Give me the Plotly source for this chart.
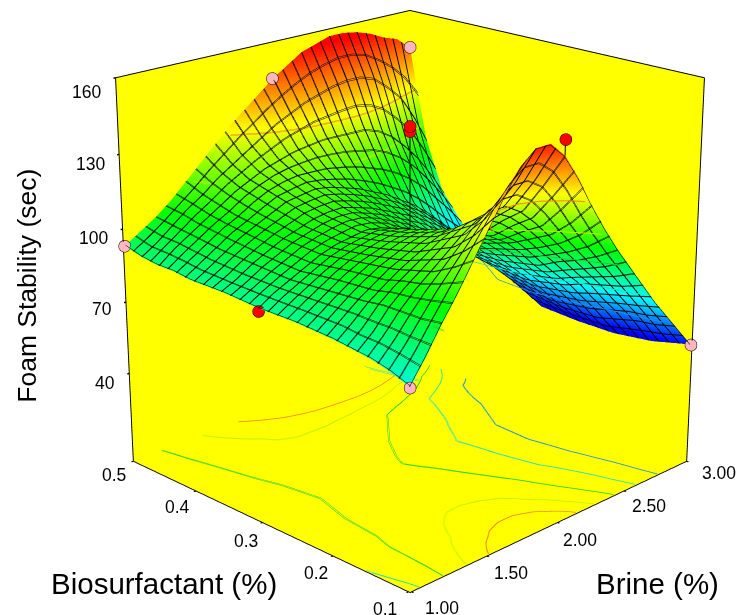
import plotly.graph_objects as go

brine = [1.0, 1.1, 1.2, 1.3, 1.4, 1.5, 1.6, 1.7, 1.8, 1.9, 2.0, 2.1, 2.2, 2.3, 2.4, 2.5, 2.6, 2.7, 2.8, 2.9, 3.0]
biosurfactant = [0.10, 0.125, 0.15, 0.175, 0.20, 0.25, 0.30, 0.35, 0.40, 0.425, 0.45, 0.475, 0.50]
foam = [
    [80, 89, 99, 108, 118, 128, 138, 147, 152, 152, 146, 136, 124, 113, 103, 94, 85, 76, 68, 60, 52],
    [83, 90, 98, 106, 113, 120, 127, 133, 137, 137, 133, 125, 115, 106, 98, 90, 82, 74, 66, 58, 50],
    [85, 91, 98, 104, 109, 114, 119, 123, 125, 125, 121, 115, 108, 101, 94, 87, 80, 72, 65, 57, 48],
    [86, 91, 98, 103, 107, 111, 115, 118, 119, 118, 115, 110, 104, 97, 91, 84, 78, 70, 63, 55, 47],
    [87, 92, 97, 101, 105, 108, 111, 113, 113, 111, 108, 104, 100, 94, 87, 81, 75, 68, 61, 53, 46],
    [88, 92, 96, 100, 103, 105, 107, 108, 108, 106, 103, 99, 95, 90, 84, 78, 72, 66, 59, 53, 46],
    [88, 92, 95, 98, 101, 103, 104, 105, 104, 102, 98, 95, 91, 87, 83, 78, 73, 67, 61, 54, 47],
    [89, 92, 96, 99, 102, 104, 106, 107, 107, 105, 103, 100, 97, 94, 90, 86, 81, 76, 70, 63, 55],
    [89, 93, 97, 101, 104, 107, 110, 111, 112, 111, 109, 107, 104, 101, 97, 93, 88, 82, 76, 71, 66],
    [90, 94, 98, 102, 105, 109, 112, 114, 115, 115, 115, 114, 113, 111, 109, 106, 102, 97, 90, 83, 75],
    [90, 95, 99, 103, 107, 111, 114, 117, 119, 121, 122, 123, 123, 123, 123, 121, 117, 111, 104, 95, 85],
    [91, 95, 100, 105, 109, 114, 118, 122, 126, 130, 133, 136, 138, 140, 141, 141, 139, 134, 128, 118, 106],
    [93, 97, 101, 106, 112, 118, 124, 130, 135, 140, 145, 149, 153, 155, 157, 157, 156, 154, 151, 149, 144],
]
pink_b = [1, 2, 3, 1, 3]
pink_s = [0.5, 0.5, 0.5, 0.1, 0.1]
pink_z = [93, 145, 144, 80, 52]
red_b = [1, 2, 2, 2]
red_s = [0.3, 0.3, 0.3, 0.1]
red_z = [87, 141, 139, 152]
red_surface = [87, 98, 98, 146]
contour_levels = [70, 85, 100, 115, 130]
contour_colors = ["#2090e0", "#20e0c0", "#20d020", "#c0f000", "#f08020"]
brine_ticks = [1, 1.5, 2, 2.5, 3]
bio_ticks = [0.1, 0.2, 0.3, 0.4, 0.5]
foam_ticks = [40, 70, 100, 130, 160]
brine_nudge = [(32, 17), (26, 18), (24, 18), (26, 16), (34, 12)]
bio_nudge = [(-25, 18), (-19, 18), (-18, 19), (-20, 17), (-21, 14)]
foam_nudge = [(-14, 10), (-14, 7), (-14, 9), (-14, 10), (-14, 15)]
FLOOR = 2
K = 3
BRINE_RANGE = [0.99, 3]
BIO_RANGE = [0.098, 0.5]
SINK = 4

rainbow = [[0, "#0000ff"], [0.25, "#00ffff"], [0.5, "#00ff00"], [0.75, "#ffff00"], [1, "#ff0000"]]
flat = dict(ambient=1, diffuse=0, specular=0, fresnel=0, roughness=1)

def toward_viewer(bs, ss, zs, amount=0.02):
    out = ([], [], [])
    for b, s, z in zip(bs, ss, zs):
        step = min(amount, (b - BRINE_RANGE[0]) / 2, (s - BIO_RANGE[0]) / 0.4)
        out[0].append(b - 2 * step)
        out[1].append(s - 0.4 * step)
        out[2].append(z + 60 * step)
    return out

fig = go.Figure()
fig.add_trace(go.Surface(
    x=brine, y=biosurfactant, z=foam, colorscale=rainbow, cmin=50, cmax=155, showscale=False,
    lighting=flat, hoverinfo="skip",
    contours=dict(
        x=dict(show=True, start=1, end=3, size=2 / 30, color="black", width=2),
        y=dict(show=True, start=0.1, end=0.5, size=0.4 / 30, color="black", width=2),
    ),
))
fig.add_trace(go.Surface(
    x=brine, y=biosurfactant, z=foam, showscale=False, hidesurface=True, hoverinfo="skip",
    contours=dict(
        x=dict(show=True, start=1.004, end=3, size=2 / 30, color="black", width=2),
        y=dict(show=True, start=0.1008, end=0.5, size=0.4 / 30, color="black", width=2),
    ),
))
sunk = [[v - SINK for v in row] for row in foam]
for level, color in zip(contour_levels, contour_colors):
    fig.add_trace(go.Surface(
        x=brine, y=biosurfactant, z=sunk, showscale=False, hidesurface=True, hoverinfo="skip",
        contours=dict(z=dict(show=True, start=level - SINK, end=level - SINK + 0.35, size=0.3, color=color, width=3,
                             project=dict(z=True))),
    ))
dx, dy, dz = [], [], []
for b, s, z, z0 in zip(red_b, red_s, red_z, red_surface):
    dx += [b, b, None]
    dy += [s, s, None]
    dz += [z, z0, None]
fig.add_trace(go.Scatter3d(x=dx, y=dy, z=dz, mode="lines", line=dict(color="black", width=2), hoverinfo="skip"))
px, py, pz = toward_viewer(pink_b, pink_s, pink_z)
fig.add_trace(go.Scatter3d(x=px, y=py, z=pz, mode="markers",
                           marker=dict(size=7, color="#ffb6c1", line=dict(color="black", width=1))))
rx, ry, rz = toward_viewer(red_b, red_s, red_z)
fig.add_trace(go.Scatter3d(x=rx, y=ry, z=rz, mode="markers",
                           marker=dict(size=7, color="#ff0000", line=dict(color="black", width=1))))

def axis(rng, vals):
    return dict(
        title=dict(text=""), range=rng, tickvals=vals, showticklabels=False,
        ticks="outside", ticklen=2, tickcolor="black", tickwidth=3,
        showbackground=True, backgroundcolor="#ffff00", showgrid=False, zeroline=False,
        showline=True, linecolor="black", linewidth=2, mirror=True, showspikes=False, autorange=False,
    )

def label(x, y, z, text, sx, sy, size=17.5, angle=0, xanchor="center"):
    return dict(x=x, y=y, z=z, text=text, showarrow=False, xshift=sx, yshift=-sy, textangle=angle,
                xanchor=xanchor, yanchor="middle",
                font=dict(family="Liberation Sans", size=size, color="black"))

notes = []
for b, (sx, sy) in zip(brine_ticks, brine_nudge):
    notes.append(label(b, 0.1, FLOOR, f"{b:.2f}", sx, sy))
for s, (sx, sy) in zip(bio_ticks, bio_nudge):
    notes.append(label(1, s, FLOOR, f"{s:.1f}", sx, sy))
for f, (sx, sy) in zip(foam_ticks, foam_nudge):
    notes.append(label(1, 0.5, f, str(f), sx, sy, xanchor="right"))
notes.append(label(2, 0.1, FLOOR, "Brine (%)", 101, 62, size=29.5))
notes.append(label(1, 0.3, FLOOR, "Biosurfactant (%)", -100, 62, size=29.5))
notes.append(label(1, 0.5, 100, "Foam Stability (sec)", -98, 57, size=26.5, angle=-90))

fig.update_layout(
    width=740 * K, height=615 * K, margin=dict(l=0, r=0, t=0, b=0), paper_bgcolor="white", showlegend=False,
    scene=dict(
        domain=dict(x=[0, 1], y=[0, 1]),
        xaxis=axis(BRINE_RANGE, brine_ticks),
        yaxis=axis(BIO_RANGE, bio_ticks),
        zaxis=axis([FLOOR, 160], foam_ticks),
        aspectmode="manual", aspectratio=dict(x=1, y=1, z=1.01),
        camera=dict(eye=dict(x=-3.67, y=-3.67, z=1.88), center=dict(x=0, y=0, z=0), up=dict(x=0, y=0, z=1)),
        annotations=notes,
    ),
)
shift = ("var d=document.querySelector('.plotly-graph-div');"
         "document.documentElement.style.overflow='hidden';document.body.style.overflow='hidden';"
         "document.body.style.margin='0';d.style.position='absolute';d.style.left='-700px';d.style.top='-647px';")
fig.write_html("out.html", post_script=shift)
